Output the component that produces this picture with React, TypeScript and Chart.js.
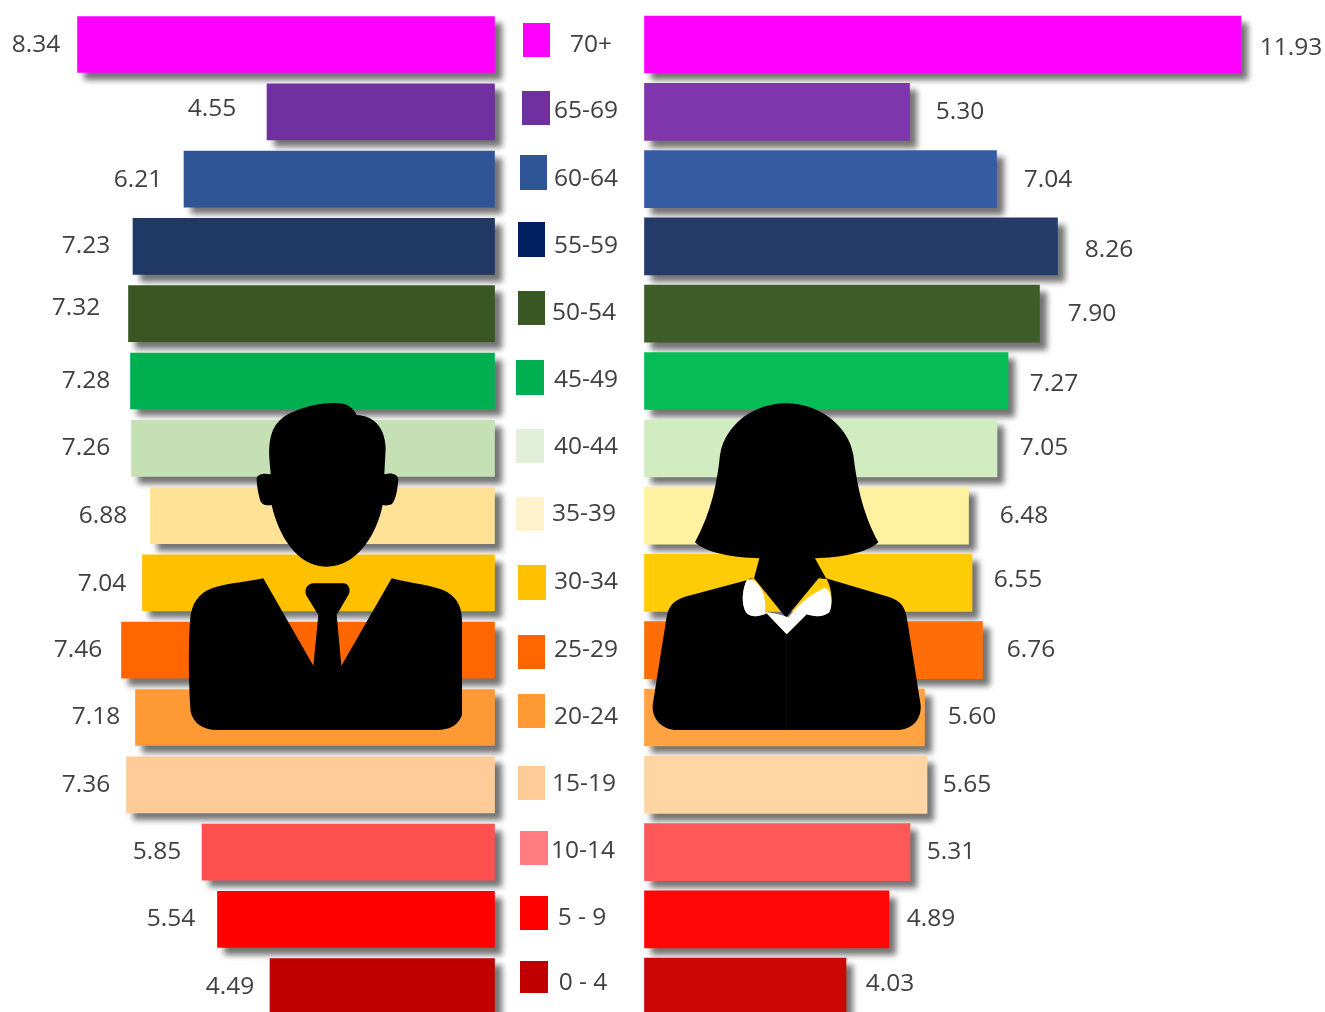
import React, { useEffect, useRef } from "react";
import { Chart, registerables } from "chart.js";

Chart.register(...registerables);

const ageGroups = ["70+", "65-69", "60-64", "55-59", "50-54", "45-49", "40-44", "35-39", "30-34", "25-29", "20-24", "15-19", "10-14", "5 - 9", "0 - 4"];
const maleValues = [8.34, 4.55, 6.21, 7.23, 7.32, 7.28, 7.26, 6.88, 7.04, 7.46, 7.18, 7.36, 5.85, 5.54, 4.49];
const femaleValues = [11.93, 5.3, 7.04, 8.26, 7.9, 7.27, 7.05, 6.48, 6.55, 6.76, 5.6, 5.65, 5.31, 4.89, 4.03];

const maleColors = ["#FF00FF", "#7030A0", "#2F5597", "#203864", "#3A5723", "#00B050", "#C5E0B4", "#FFE295", "#FFC000", "#FF6600", "#FF9933", "#FFCC99", "#FF5050", "#FF0000", "#C00000"];
const femaleColors = ["#FF00FF", "#7F35AB", "#355CA3", "#253C6B", "#3F5D28", "#05BC56", "#D2ECC1", "#FFF1A0", "#FFCC07", "#FF6D08", "#FFA342", "#FFD6A3", "#FF5858", "#FF0707", "#CC0505"];
const swatchColors = ["#FF00FF", "#7030A0", "#2F5597", "#002060", "#385723", "#00B050", "#E2F0D9", "#FFF2CC", "#FFC000", "#FF6600", "#FF9933", "#FFCC99", "#FF7C80", "#FF0000", "#C00000"];

// Layout only: hand placement of the annotations, as in the reference
const swatchBoxes = [[523, 23, 27, 34], [522, 91, 28, 34], [520, 155, 27, 35], [518, 222, 27, 35], [518, 291, 27, 34], [516, 360, 28, 35], [516, 429, 28, 34], [516, 497, 28, 34], [518, 565, 28, 35], [518, 635, 27, 34], [518, 694, 27, 34], [518, 766, 27, 34], [520, 831, 28, 34], [520, 896, 28, 34], [520, 961, 28, 32]];
const groupLabelPos = [[591, 45.5], [586, 111.5], [586, 179.5], [586, 246.5], [584, 313.5], [586, 380.5], [586, 447.5], [584, 514.5], [586, 582.5], [586, 650.5], [586, 717.5], [584, 784.5], [583, 851.5], [582, 918.5], [583, 983.5]];
const maleGap = [41.5, 55, 46, 47, 52.5, 44.5, 45.5, 47.5, 40.5, 43.5, 39.5, 40.5, 45, 46.5, 40];
const maleDy = [0.5, -2.5, 1, 0, -6, 0, -0.5, 0, 1, 0, 0, 0, -0.5, -0.5, 0];
const femaleGap = [50, 50.5, 51.5, 51.5, 52.5, 46, 47, 55.5, 46, 48.5, 47.5, 40, 41, 42, 44];
const femaleDy = [3.5, 0, 1, 4, 0, 3.5, -0.5, 0, -3, 0, 0, 0, -0.5, -0.5, -3];

const FONT = '24.5px "Open Sans"';
const TEXT = "#404040";

const manHead = "M268,190 C265,120 280,80 330,55 C380,30 440,20 480,25 C505,28 520,40 530,60 C575,62 615,90 617,160 L613,238 C635,232 655,238 655,255 C652,285 648,315 635,328 C625,332 615,332 608,330 C590,420 530,515 440,515 C350,515 295,420 275,330 C265,332 250,332 242,320 C235,300 230,270 230,250 C235,235 255,235 272,238 Z";
const manBody = "M250,550 L400,812 L415,660 L378,600 C372,580 385,565 400,565 L490,565 C505,565 515,585 505,600 L470,660 L484,812 L635,550 C690,565 760,570 800,590 C835,610 846,640 846,680 L846,960 C835,990 810,1005 770,1005 L110,1005 C70,1005 40,985 32,950 C25,850 25,720 32,660 C40,610 70,585 110,575 C150,565 200,560 250,550 Z";
const womanBody = "M438,25 C340,25 255,90 240,180 C232,260 215,350 165,442 C200,475 280,488 358,490 L342,550 L135,605 C100,615 85,635 80,665 L38,930 C35,975 70,1005 110,1005 L770,1005 C815,1005 845,975 842,930 L800,665 C795,635 780,615 745,605 L558,550 L525,490 C600,488 680,475 715,442 C665,350 650,260 640,180 C625,90 535,25 438,25 Z";
const womanHole = "M342,550 L438,668 L536,550 L560,552 C578,585 578,630 568,652 C550,668 520,665 500,658 L440,718 L380,655 C360,665 335,668 320,655 C303,630 305,585 322,552 Z";
const womanCollar = "M322,552 C305,585 303,630 320,655 C335,668 360,665 380,655 L440,718 L500,658 C520,665 550,668 568,652 C578,630 578,590 556,578 C525,590 480,620 445,668 C420,655 395,655 375,650 C380,610 365,575 345,558 Z";

const shadowPlugin = {
  id: "barShadow",
  beforeDatasetDraw(chart: any) {
    const c = chart.ctx;
    c.save();
    c.shadowColor = "rgba(0,0,0,0.55)";
    c.shadowBlur = 6;
    c.shadowOffsetX = 7;
    c.shadowOffsetY = 7;
  },
  afterDatasetDraw(chart: any) {
    chart.ctx.restore();
  },
};

const annotationPlugin = {
  id: "annotations",
  afterDraw(chart: any) {
    const c = chart.ctx;
    const xL = chart.scales.xL;
    const xR = chart.scales.xR;
    const y = chart.scales.y;

    c.save();
    // silhouettes
    c.save();
    c.translate(180, 395);
    c.scale(1 / 3, 1 / 3);
    c.fillStyle = "#000";
    c.fill(new Path2D(manHead));
    c.fill(new Path2D(manBody));
    c.restore();

    c.save();
    c.translate(640, 395);
    c.scale(1 / 3, 1 / 3);
    const p = new Path2D(womanBody);
    p.addPath(new Path2D(womanHole));
    c.fillStyle = "#000";
    c.fill(p, "evenodd");
    c.fillStyle = "#fff";
    c.fill(new Path2D(womanCollar));
    c.strokeStyle = "#141414";
    c.lineWidth = 2;
    c.beginPath();
    c.moveTo(440, 720);
    c.lineTo(440, 1005);
    c.stroke();
    c.restore();

    // central legend and value labels
    c.font = FONT;
    c.textAlign = "center";
    c.textBaseline = "middle";
    ageGroups.forEach((g, i) => {
      const [bx, by, bw, bh] = swatchBoxes[i];
      c.fillStyle = swatchColors[i];
      c.fillRect(bx, by, bw, bh);
      c.fillStyle = TEXT;
      c.fillText(g, groupLabelPos[i][0], groupLabelPos[i][1]);
      const yc = y.getPixelForValue(i);
      c.fillText(maleValues[i].toFixed(2), xL.getPixelForValue(maleValues[i]) - maleGap[i], yc + maleDy[i]);
      c.fillText(femaleValues[i].toFixed(2), xR.getPixelForValue(femaleValues[i]) + femaleGap[i], yc + femaleDy[i]);
    });
    c.restore();
  },
};

export default function App() {
  const ref = useRef<HTMLCanvasElement>(null);
  useEffect(() => {
    const chart = new Chart(ref.current as HTMLCanvasElement, {
      type: "bar",
      data: {
        labels: ageGroups,
        datasets: [
          { label: "Male", data: maleValues, xAxisID: "xL", backgroundColor: maleColors, barThickness: 56, borderWidth: 0 },
          { label: "Female", data: femaleValues, xAxisID: "xR", backgroundColor: femaleColors, barThickness: 57, borderWidth: 0 },
        ],
      },
      options: {
        indexAxis: "y",
        responsive: false,
        animation: false,
        layout: { padding: { top: 10.85, bottom: 39.65, left: 0, right: 0 } },
        datasets: { bar: { grouped: false } },
        scales: {
          y: { type: "category", display: false, offset: true },
          xL: { type: "linear", display: false, reverse: true, min: -16.61, max: 9.89 },
          xR: { type: "linear", display: false, min: -12.89, max: 13.61 },
        },
        plugins: { legend: { display: false }, tooltip: { enabled: false } },
      } as any,
      plugins: [shadowPlugin, annotationPlugin],
    });
    return () => chart.destroy();
  }, []);
  return (
    <div style={{ position: "absolute", left: 0, top: 0, width: 1325, height: 1012, overflow: "hidden", background: "#fff" }}>
      <canvas ref={ref} width={1325} height={1060} style={{ display: "block" }} />
    </div>
  );
}
